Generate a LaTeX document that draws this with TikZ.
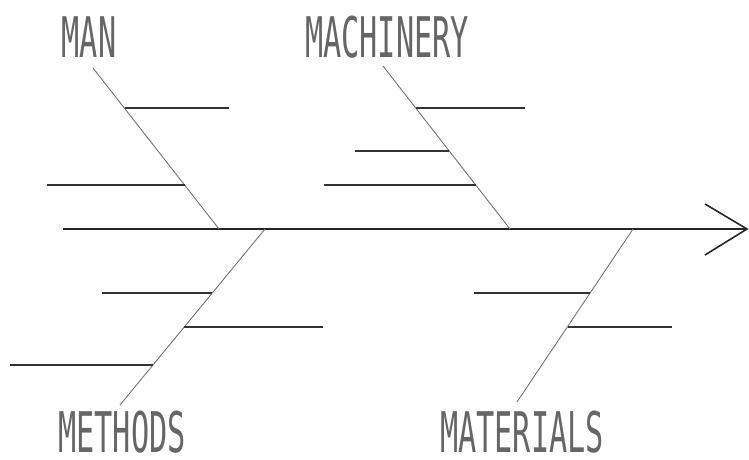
\documentclass[tikz,border=0pt]{standalone}
\usepackage{fontspec}
\newfontfamily\plotfont{DejaVu Sans Mono}
\usetikzlibrary{positioning}
\tikzset{
    spine/.style={line width=1.6pt, black!85},
    bone/.style={line width=0.9pt, black!55},
    rib/.style={line width=1.1pt, black!80},
    cause/.style={inner sep=0pt, anchor=base, text=black!60, font=\plotfont\fontsize{56}{60}\selectfont}
}
\newcommand{\narrowtext}[1]{\scalebox{0.54}[1]{#1}}

\begin{document}
\begin{tikzpicture}[x=1pt, y=-1pt]
\useasboundingbox (0,0) rectangle (749,460);

% main spine and open head
\coordinate (tail) at (63,229);
\coordinate (head) at (747,229);
\coordinate (headup) at (705,204);
\coordinate (headdown) at (705,255);
\draw[spine] (tail) -- (head);
\draw[spine] (headup) -- (head) -- (headdown);

% cause names
\node[cause] (man) at (89,57) {\narrowtext{MAN}};
\node[cause] (machinery) at (387,57) {\narrowtext{MACHINERY}};
\node[cause] (methods) at (122,452) {\narrowtext{METHODS}};
\node[cause] (materials) at (522,452) {\narrowtext{MATERIALS}};

% bones
\coordinate (man-top) at (93,68);
\coordinate (man-foot) at (219,229);
\coordinate (mach-top) at (383,66);
\coordinate (mach-foot) at (510,229);
\coordinate (meth-foot) at (265,229);
\coordinate (meth-end) at (120,405);
\coordinate (mat-foot) at (633,229);
\coordinate (mat-end) at (517,402);
\draw[bone] (man-top) -- (man-foot);
\draw[bone] (mach-top) -- (mach-foot);
\draw[bone] (meth-foot) -- (meth-end);
\draw[bone] (mat-foot) -- (mat-end);

% ribs on the man bone
\coordinate (man-a) at (125,108);  \coordinate (man-a2) at (229,108);
\coordinate (man-b) at (185,185);  \coordinate (man-b2) at (47,185);
\draw[rib] (man-a) -- (man-a2);
\draw[rib] (man-b) -- (man-b2);

% ribs on the machinery bone
\coordinate (mach-a) at (416,108); \coordinate (mach-a2) at (525,108);
\coordinate (mach-b) at (449,151); \coordinate (mach-b2) at (355,151);
\coordinate (mach-c) at (476,185); \coordinate (mach-c2) at (324,185);
\draw[rib] (mach-a) -- (mach-a2);
\draw[rib] (mach-b) -- (mach-b2);
\draw[rib] (mach-c) -- (mach-c2);

% ribs on the methods bone
\coordinate (meth-a) at (212,293); \coordinate (meth-a2) at (102,293);
\coordinate (meth-b) at (184,327); \coordinate (meth-b2) at (323,327);
\coordinate (meth-c) at (153,365); \coordinate (meth-c2) at (10,365);
\draw[rib] (meth-a) -- (meth-a2);
\draw[rib] (meth-b) -- (meth-b2);
\draw[rib] (meth-c) -- (meth-c2);

% ribs on the materials bone
\coordinate (mat-a) at (590,293);  \coordinate (mat-a2) at (474,293);
\coordinate (mat-b) at (568,327);  \coordinate (mat-b2) at (672,327);
\draw[rib] (mat-a) -- (mat-a2);
\draw[rib] (mat-b) -- (mat-b2);
\end{tikzpicture}
\end{document}
